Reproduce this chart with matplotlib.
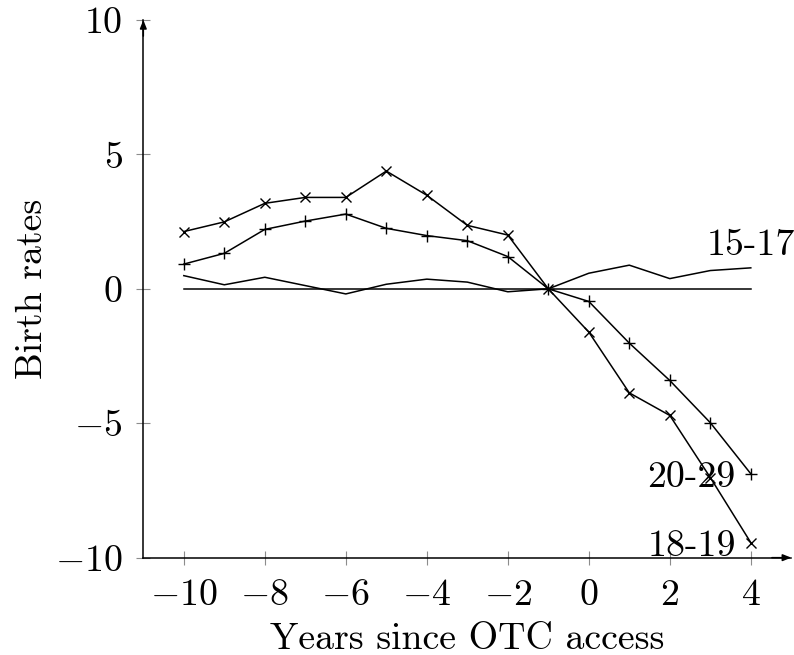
import matplotlib
matplotlib.use("Agg")
import matplotlib.pyplot as plt
from matplotlib.ticker import FuncFormatter

plt.rcParams["font.family"] = "serif"
plt.rcParams["font.serif"] = ["cmr10"]
plt.rcParams["mathtext.fontset"] = "cm"
plt.rcParams["axes.unicode_minus"] = False
plt.rcParams["axes.formatter.use_mathtext"] = True

years = [-10, -9, -8, -7, -6, -5, -4, -3, -2, -1, 0, 1, 2, 3, 4]
age_15_17 = [0.49, 0.15, 0.43, 0.12, -0.19, 0.17, 0.36, 0.25, -0.11, 0.0,
             0.58, 0.88, 0.38, 0.68, 0.78]
age_18_19 = [2.13, 2.49, 3.18, 3.40, 3.40, 4.38, 3.48, 2.36, 2.00, 0.0,
             -1.61, -3.87, -4.71, -7.02, -9.44]
age_20_29 = [0.92, 1.32, 2.21, 2.52, 2.78, 2.25, 1.98, 1.79, 1.20, 0.0,
             -0.47, -2.02, -3.41, -4.98, -6.88]
baseline = [0.0] * len(years)

FS = 27.3
LW = 1.1

fig = plt.figure(figsize=(7.94, 6.55), dpi=100)
ax = fig.add_axes([0.1805, 0.1486, 0.8161, 0.8209])

ax.plot(years, baseline, color="black", lw=LW)
ax.plot(years, age_15_17, color="black", lw=LW)
ax.plot(years, age_20_29, color="black", lw=LW, marker="+", ms=8.6, mew=1.0)
ax.plot(years, age_18_19, color="black", lw=LW, marker="x", ms=6.8, mew=1.0)

ax.annotate("15-17", xy=(years[-1], age_15_17[-1]), xytext=(0, 13),
            textcoords="offset pixels", ha="center", va="baseline", fontsize=FS)
ax.annotate("20-29", xy=(years[-1], age_20_29[-1]), xytext=(-15, -4),
            textcoords="offset pixels", ha="right", va="center", fontsize=FS)
ax.annotate("18-19", xy=(years[-1], age_18_19[-1]), xytext=(-15, -4),
            textcoords="offset pixels", ha="right", va="center", fontsize=FS)

ax.set_xlim(-11, 5)
ax.set_ylim(-10, 10)
ax.set_xticks([-10, -8, -6, -4, -2, 0, 2, 4])
ax.set_yticks([-10, -5, 0, 5, 10])
fmt = FuncFormatter(lambda v, p: r"$%g$" % v)
ax.xaxis.set_major_formatter(fmt)
ax.yaxis.set_major_formatter(fmt)
ax.tick_params(direction="inout", length=9.8, width=0.8, color="0.55",
               labelsize=FS, pad=10)

for s in ["top", "right"]:
    ax.spines[s].set_visible(False)
for s in ["left", "bottom"]:
    ax.spines[s].set_linewidth(LW)

# arrow heads at the ends of both axes
arrow = dict(arrowstyle="-|>,head_length=0.5,head_width=0.2", lw=LW,
             color="black", shrinkA=0, shrinkB=0)
ax.annotate("", xy=(1, 0), xytext=(0.97, 0), xycoords="axes fraction",
            arrowprops=arrow, annotation_clip=False)
ax.annotate("", xy=(0, 1), xytext=(0, 0.97), xycoords="axes fraction",
            arrowprops=arrow, annotation_clip=False)

ax.set_xlabel("Years since OTC access", fontsize=FS, labelpad=8)
ax.set_ylabel("Birth rates", fontsize=FS, labelpad=4)

fig.savefig("out.png", dpi=100)
